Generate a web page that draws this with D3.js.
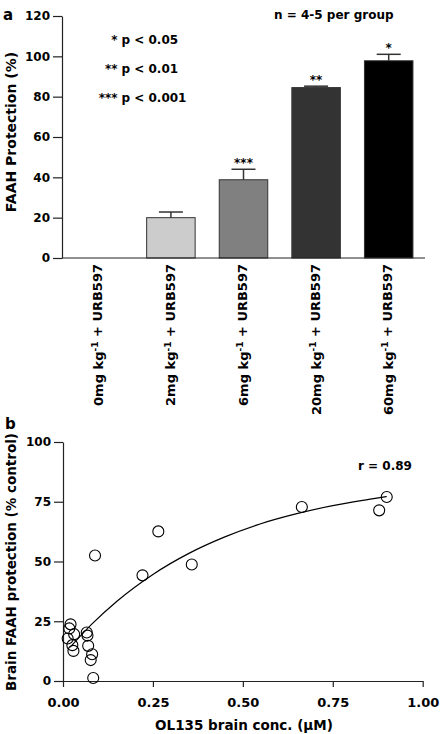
<!DOCTYPE html>
<html>
<head>
<meta charset="utf-8">
<script src="https://cdn.jsdelivr.net/npm/d3@7"></script>
<style>
  html, body { margin: 0; padding: 0; background: #fff; }
  svg { display: block; }
  text { font-family: "DejaVu Sans", sans-serif; font-weight: bold; fill: #000; }
</style>
</head>
<body>
<svg id="chart" width="440" height="734"></svg>
<script>
// ---------- Panel a data ----------
const doses = ["0mg", "2mg", "6mg", "20mg", "60mg"];
const protection = [0, 20, 38.8, 84.5, 97.8];
const protectionErr = [0, 2.8, 5.2, 0.7, 3.2];
const significance = ["", "", "***", "**", "*"];
const barFills = ["#ffffff", "#cccccc", "#808080", "#333333", "#000000"];
const yTicksA = [0, 20, 40, 60, 80, 100, 120];
const legendStars = ["*", "**", "***"];
const legendP = ["p < 0.05", "p < 0.01", "p < 0.001"];

// ---------- Panel b data ----------
const brainConc = [0.021, 0.0175, 0.013, 0.031, 0.026, 0.029, 0.066, 0.068, 0.070, 0.081, 0.077, 0.084,
                   0.089, 0.221, 0.265, 0.358, 0.664, 0.879, 0.900];
const brainProt = [23.7, 22.0, 17.8, 19.6, 15.0, 12.6, 20.3, 19.0, 14.7, 11.2, 8.75, 1.25,
                   52.5, 44.2, 62.6, 48.75, 72.8, 71.4, 77.0];
const fitConc = [0.02, 0.08, 0.15, 0.25, 0.35, 0.45, 0.55, 0.65, 0.75, 0.85, 0.90];
const fitProt = [14.2, 23.8, 33.4, 44.6, 53.4, 60.3, 65.8, 70.0, 73.4, 76.0, 77.2];
const xTicksB = [0, 0.25, 0.5, 0.75, 1.0];
const yTicksB = [0, 25, 50, 75, 100];

const svg = d3.select("#chart");
const AX = "#222";

// ================= Panel a =================
const gA = svg.append("g");
const xA = d3.scaleBand().domain(doses).range([62, 425]).paddingInner(0.332).paddingOuter(0.166);
const yA = d3.scaleLinear().domain([0, 120]).range([258, 16]);

// bars
gA.selectAll("rect.bar").data(doses).join("rect")
  .attr("class", "bar")
  .attr("x", d => xA(d))
  .attr("width", xA.bandwidth())
  .attr("y", (d, i) => yA(protection[i]))
  .attr("height", (d, i) => yA(0) - yA(protection[i]))
  .attr("fill", (d, i) => barFills[i])
  .attr("stroke", (d, i) => protection[i] > 0 ? "#333" : "none")
  .attr("stroke-width", 1);

// error bars
const capW = 24;
doses.forEach((d, i) => {
  if (protectionErr[i] <= 0) return;
  const cx = xA(d) + xA.bandwidth() / 2;
  gA.append("line").attr("x1", cx).attr("x2", cx)
    .attr("y1", yA(protection[i])).attr("y2", yA(protection[i] + protectionErr[i]))
    .attr("stroke", "#333").attr("stroke-width", 1.5);
  gA.append("line").attr("x1", cx - capW / 2).attr("x2", cx + capW / 2)
    .attr("y1", yA(protection[i] + protectionErr[i])).attr("y2", yA(protection[i] + protectionErr[i]))
    .attr("stroke", "#333").attr("stroke-width", 1.5);
  if (significance[i]) {
    gA.append("text").attr("x", cx).attr("y", yA(protection[i] + protectionErr[i]) - 2.5)
      .attr("text-anchor", "middle").attr("font-size", 12).text(significance[i]);
  }
});

// y axis
const yAxisA = gA.append("g").attr("transform", "translate(62,0)")
  .call(d3.axisLeft(yA).tickValues(yTicksA).tickSize(9).tickPadding(3).tickSizeOuter(0));
yAxisA.selectAll("text").attr("font-size", 12).attr("font-family", "DejaVu Sans").attr("font-weight", "bold").attr("fill", "#000");
yAxisA.selectAll("line, path").attr("stroke", AX).attr("stroke-width", 1.2);

// x axis line (no ticks)
gA.append("line").attr("x1", 62).attr("x2", 425).attr("y1", yA(0)).attr("y2", yA(0))
  .attr("stroke", AX).attr("stroke-width", 1.2);

// category labels
doses.forEach(d => {
  const cx = xA(d) + xA.bandwidth() / 2;
  const t = gA.append("text")
    .attr("transform", `translate(${cx},264) rotate(-90)`)
    .attr("text-anchor", "end").attr("dy", "0.35em").attr("font-size", 13);
  t.append("tspan").text(d + " kg");
  t.append("tspan").attr("font-size", 9).attr("dy", "-0.55em").text("-1");
  t.append("tspan").attr("dy", "0.32em").text(" + URB597");
});

// y title
gA.append("text").attr("transform", "translate(15.5,132) rotate(-90)")
  .attr("text-anchor", "middle").attr("font-size", 14).text("FAAH Protection (%)");

// panel letter
gA.append("text").attr("x", 3).attr("y", 19.5).attr("font-size", 15).text("a");

// annotation
gA.append("text").attr("x", 274).attr("y", 18.5).attr("font-size", 12).text("n = 4-5 per group");
legendStars.forEach((s, i) => {
  const y = 44 + i * 29;
  gA.append("text").attr("x", 117.5).attr("y", y).attr("text-anchor", "end").attr("font-size", 12).text(s);
  gA.append("text").attr("x", 121.5).attr("y", y).attr("font-size", 12).text(legendP[i]);
});

// ================= Panel b =================
const gB = svg.append("g");
const xB = d3.scaleLinear().domain([0, 1]).range([63, 422.7]);
const yB = d3.scaleLinear().domain([0, 100]).range([681, 442]);

const yAxisB = gB.append("g").attr("transform", "translate(63,0)")
  .call(d3.axisLeft(yB).tickValues(yTicksB).tickSize(9).tickPadding(3).tickSizeOuter(0));
yAxisB.selectAll("text").attr("font-size", 12).attr("font-family", "DejaVu Sans").attr("font-weight", "bold").attr("fill", "#000");
yAxisB.selectAll("line, path").attr("stroke", AX).attr("stroke-width", 1.2);

const xAxisB = gB.append("g").attr("transform", "translate(0,681)")
  .call(d3.axisBottom(xB).tickValues(xTicksB).tickFormat(d3.format(".2f")).tickSize(6).tickPadding(10.5).tickSizeOuter(0));
xAxisB.selectAll("text").attr("font-size", 13).attr("font-family", "DejaVu Sans").attr("font-weight", "bold").attr("fill", "#000");
xAxisB.selectAll("line, path").attr("stroke", AX).attr("stroke-width", 1.2);

// fit curve
const line = d3.line().x((d, i) => xB(fitConc[i])).y((d, i) => yB(fitProt[i])).curve(d3.curveMonotoneX);
gB.append("path").attr("d", line(fitConc)).attr("fill", "none").attr("stroke", "#000").attr("stroke-width", 1.2);

// points
gB.selectAll("circle").data(brainConc).join("circle")
  .attr("cx", d => xB(d))
  .attr("cy", (d, i) => yB(brainProt[i]))
  .attr("r", 5.5)
  .attr("fill", "none").attr("stroke", "#000").attr("stroke-width", 1.1);

// titles
gB.append("text").attr("transform", "translate(15.5,562) rotate(-90)")
  .attr("text-anchor", "middle").attr("font-size", 13.5).text("Brain FAAH protection (% control)");
gB.append("text").attr("x", 244).attr("y", 730).attr("text-anchor", "middle").attr("font-size", 13.5)
  .text("OL135 brain conc. (µM)");
gB.append("text").attr("x", 5).attr("y", 429).attr("font-size", 15).text("b");
gB.append("text").attr("x", 358).attr("y", 470).attr("font-size", 12).text("r = 0.89");
</script>
</body>
</html>
